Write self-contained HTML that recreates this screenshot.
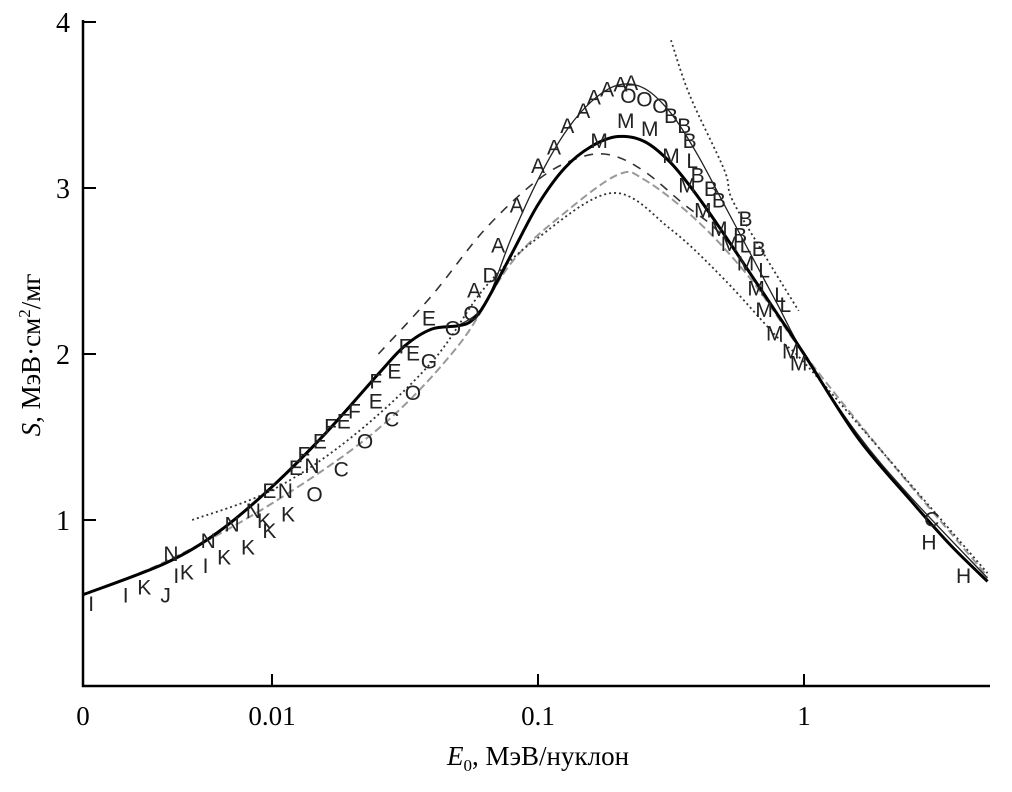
<!DOCTYPE html>
<html><head><meta charset="utf-8"><style>
body{margin:0;background:#fff;}
svg text{font-family:"Liberation Serif",serif;}
svg text.mk{font-family:"Liberation Sans Narrow","Liberation Sans",sans-serif;}
</style></head><body>
<svg id="chart" width="1012" height="787" viewBox="0 0 1012 787" xmlns="http://www.w3.org/2000/svg">
<g id="axes"></g>
<g id="series"></g>
<g id="markers"></g>
<text transform="translate(40,355) rotate(-90)" text-anchor="middle" font-size="27"><tspan font-style="italic">S</tspan>, МэВ·см<tspan font-size="17" dy="-10">2</tspan><tspan dy="10">/мг</tspan></text>
<text x="538" y="765" text-anchor="middle" font-size="27"><tspan font-style="italic">E</tspan><tspan font-size="17" dy="6">0</tspan><tspan dy="-6">, МэВ/нуклон</tspan></text>
</svg>
<script>
// data: log10(E) and S values
const yTicks=[1,2,3,4];
const xTickLog=[-2,-1,0];
const xTickLabels=["0.01","0.1","1"];
const solidX=[-2.71,-2.4,-2.2,-2,-1.8,-1.6,-1.5,-1.4,-1.3,-1.25,-1.2,-1.1,-1,-0.9,-0.8,-0.7,-0.6,-0.5,-0.4,-0.3,-0.2,-0.1,0,0.2,0.4,0.55,0.69];
const solidY=[0.55,0.74,0.93,1.2,1.52,1.88,2.05,2.15,2.17,2.2,2.3,2.6,2.9,3.12,3.25,3.31,3.28,3.15,2.95,2.72,2.48,2.24,2.0,1.5,1.12,0.85,0.63];
const thinX=[-1.3,-1.2,-1.1,-1,-0.9,-0.8,-0.7,-0.6,-0.5,-0.4,-0.3,-0.2,-0.1,0,0.2,0.4,0.69];
const thinY=[2.17,2.3,2.7,3.05,3.33,3.52,3.62,3.6,3.45,3.2,2.9,2.6,2.3,2.0,1.52,1.14,0.65];
const dashX=[-1.6,-1.4,-1.2,-1,-0.85,-0.73,-0.6,-0.45,-0.35,-0.25];
const dashY=[2.0,2.35,2.75,3.05,3.18,3.2,3.1,2.9,2.78,2.62];
const grayX=[-2.71,-2.4,-2,-1.6,-1.3,-1.1,-0.9,-0.7,-0.6,-0.4,-0.2,0,0.3,0.69];
const grayY=[0.55,0.75,1.1,1.55,2.05,2.55,2.85,3.08,3.05,2.8,2.45,2.0,1.4,0.66];
const dotX=[-2.3,-2.0,-1.7,-1.4,-1.2,-1,-0.72,-0.5,-0.3,-0.1,0,0.3,0.69];
const dotY=[1.0,1.18,1.5,1.95,2.4,2.7,2.97,2.75,2.45,2.1,1.95,1.4,0.68];
const steepX=[-0.5,-0.43,-0.3,-0.27,-0.15,-0.02];
const steepY=[3.89,3.56,3.11,2.93,2.6,2.26];
const mLetters="IIKJNIKINKNKNKKNEKENOFEFECOFECOFEFEEGOOADAAAAAAAAAAOOOBBBLBBBBBLBLLLMMMMMMMMMMMMMMCHH".split("");
const mX=[-2.68,-2.55,-2.48,-2.40,-2.38,-2.36,-2.32,-2.25,-2.24,-2.18,-2.15,-2.09,-2.07,-2.03,-2.01,-1.95,-2.01,-1.94,-1.91,-1.85,-1.84,-1.88,-1.82,-1.78,-1.73,-1.74,-1.65,-1.69,-1.61,-1.55,-1.47,-1.61,-1.54,-1.50,-1.47,-1.41,-1.41,-1.32,-1.25,-1.24,-1.18,-1.15,-1.08,-1.00,-0.94,-0.89,-0.83,-0.79,-0.74,-0.69,-0.65,-0.66,-0.60,-0.54,-0.50,-0.45,-0.43,-0.42,-0.40,-0.35,-0.32,-0.22,-0.24,-0.22,-0.17,-0.15,-0.09,-0.07,-0.77,-0.67,-0.58,-0.50,-0.44,-0.38,-0.32,-0.28,-0.22,-0.18,-0.15,-0.11,-0.05,-0.02,0.48,0.47,0.60];
const mY=[0.50,0.55,0.60,0.55,0.80,0.67,0.69,0.73,0.88,0.78,0.98,0.84,1.06,1.00,0.94,1.18,1.18,1.04,1.32,1.33,1.16,1.40,1.48,1.57,1.60,1.31,1.48,1.66,1.72,1.61,1.77,1.84,1.90,2.05,2.01,2.22,1.96,2.16,2.25,2.39,2.48,2.66,2.90,3.14,3.25,3.38,3.47,3.55,3.60,3.63,3.64,3.56,3.54,3.50,3.44,3.38,3.29,3.17,3.08,3.00,2.93,2.82,2.72,2.66,2.64,2.51,2.36,2.30,3.29,3.41,3.36,3.20,3.02,2.87,2.76,2.67,2.55,2.40,2.27,2.13,2.02,1.95,1.01,0.87,0.67];

const NS="http://www.w3.org/2000/svg";
const X0=83,X1=990,Y0=686,Y1=20;
function sx(l){return 272+(l+2)*266;}
function sy(s){return 686-166*s;}
function mk(tag,attrs,parent){const e=document.createElementNS(NS,tag);for(const k in attrs)e.setAttribute(k,attrs[k]);parent.appendChild(e);return e;}
const axes=document.getElementById('axes');
const ax=mk('path',{d:`M${X0},${Y1} L${X0},${Y0} L${X1},${Y0}`,fill:'none',stroke:'#000','stroke-width':2.5},axes);


const z=mk('text',{x:X0,y:725,'text-anchor':'middle','font-size':27},axes);z.textContent="0";


xTickLog.forEach((l,i)=>{
  const t=mk('line',{x1:sx(l),x2:sx(l),y1:Y0,y2:Y0-12,stroke:'#000','stroke-width':2},axes);
  
  
  const tx=mk('text',{x:sx(l),y:725,'text-anchor':'middle','font-size':27},axes);tx.textContent=xTickLabels[i];
  
  
});
yTicks.forEach(v=>{
  const t=mk('line',{x1:X0,x2:X0+13,y1:sy(v),y2:sy(v),stroke:'#000','stroke-width':2},axes);
  
  
  const tx=mk('text',{x:70,y:sy(v)+10,'text-anchor':'end','font-size':28},axes);tx.textContent=String(v);
  
  
});
const ser=document.getElementById('series');
function smooth(xs,ys){
  const p=xs.map((x,i)=>[sx(x),sy(ys[i])]);
  let d=`M${p[0][0]},${p[0][1]}`;
  for(let i=0;i<p.length-1;i++){
    const p0=p[i-1]||p[i],p1=p[i],p2=p[i+1],p3=p[i+2]||p2;
    const c1=[p1[0]+(p2[0]-p0[0])/6,p1[1]+(p2[1]-p0[1])/6];
    const c2=[p2[0]-(p3[0]-p1[0])/6,p2[1]-(p3[1]-p1[1])/6];
    d+=` C${c1[0]},${c1[1]} ${c2[0]},${c2[1]} ${p2[0]},${p2[1]}`;
  }
  return d;
}
function line(xs,ys,name,st){
  const e=mk('path',Object.assign({d:smooth(xs,ys),fill:'none'},st),ser);
  
  
}
line(grayX,grayY,'gray-dashed-curve',{stroke:'#999','stroke-width':2,'stroke-dasharray':'8 4'});
line(dotX,dotY,'dotted-curve',{stroke:'#333','stroke-width':1.8,'stroke-dasharray':'2 3'});
line(steepX,steepY,'steep-dotted-curve',{stroke:'#333','stroke-width':1.8,'stroke-dasharray':'2 3'});
line(dashX,dashY,'dashed-curve',{stroke:'#333','stroke-width':1.6,'stroke-dasharray':'9 8'});
line(thinX,thinY,'thin-curve',{stroke:'#222','stroke-width':1.3});
line(solidX,solidY,'solid-curve',{stroke:'#000','stroke-width':3});
const mg=document.getElementById('markers');
mLetters.forEach((c,i)=>{
  const t=mk('text',{class:'mk',x:sx(mX[i]),y:sy(mY[i])+8,'text-anchor':'middle','font-size':21,fill:'#222'},mg);
  t.textContent=c;
  
  
});
</script>
</body></html>
